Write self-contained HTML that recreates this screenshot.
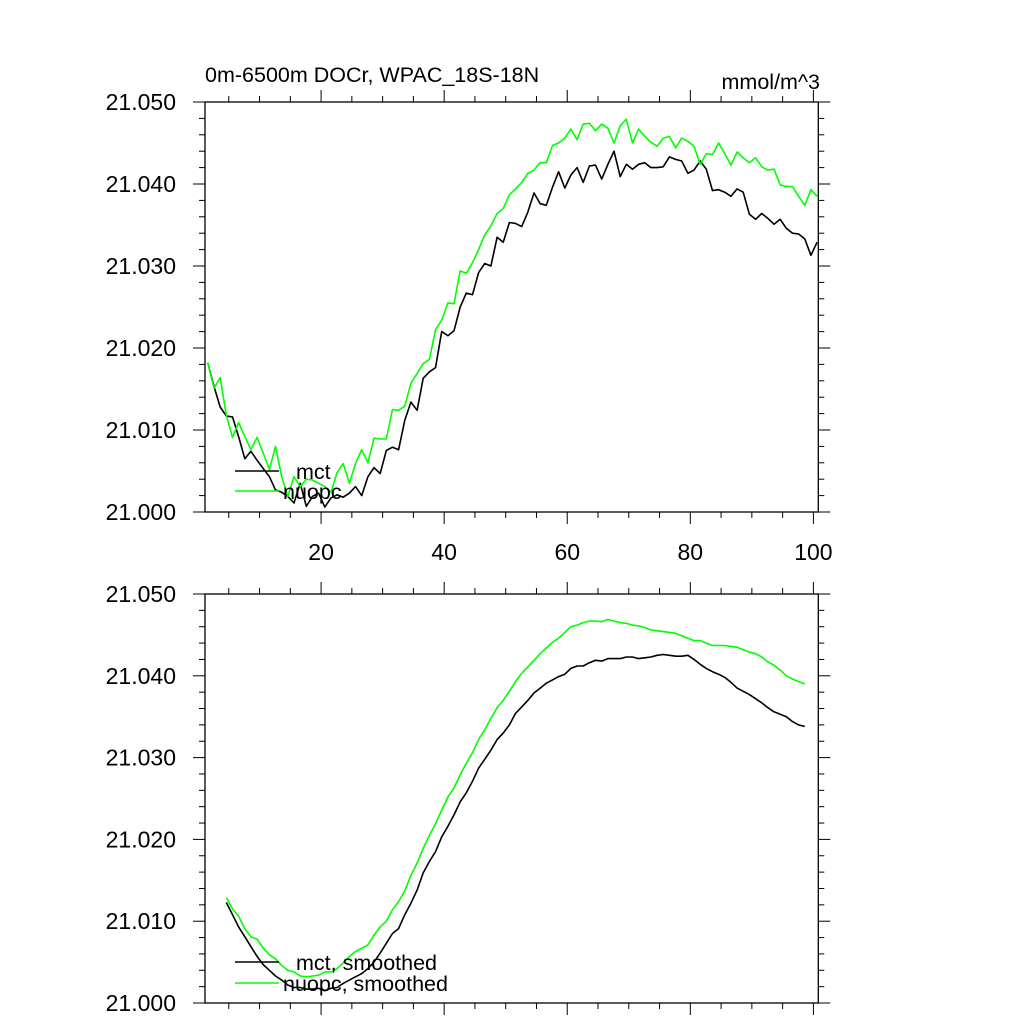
<!DOCTYPE html>
<html><head><meta charset="utf-8"><style>
html,body{margin:0;padding:0;background:#fff;}
svg{display:block;font-family:"Liberation Sans",Arial,sans-serif;}
</style></head><body>
<svg id="chart" width="1024" height="1024" viewBox="0 0 1024 1024" xmlns="http://www.w3.org/2000/svg">
<rect width="1024" height="1024" fill="#fff"/>
<text x="205" y="82" font-size="21.5">0m-6500m DOCr, WPAC_18S-18N</text>
<text x="820" y="89" font-size="21.5" text-anchor="end">mmol/m^3</text>
<g id="top"></g>
<g id="bottom"></g>
</svg>
<script>
// values in thousandths above 21.000
const mctRaw = [18.2,15.3,12.8,11.7,11.6,9.2,6.5,7.4,6.3,5.3,4.3,2.7,2.4,1.9,1.1,3.5,0.7,1.9,2.3,0.6,1.7,2.1,1.8,2.3,3.1,2.0,4.3,5.4,4.7,7.5,7.9,7.6,11.2,13.4,12.4,16.3,17.1,17.6,
22.0,21.5,22.1,25.0,26.7,26.5,29.2,30.3,30.0,33.5,32.9,35.3,35.2,34.8,36.6,38.9,37.6,37.4,39.6,41.5,39.5,41.1,42.0,40.2,42.2,42.3,40.6,42.4,44.0,40.9,42.4,41.8,42.4,42.6,42.0,42.0,42.1,43.3,43.0,42.8,41.3,41.7,42.8,41.8,39.2,39.3,39.0,38.5,39.4,39.0,36.3,35.7,36.4,35.8,35.1,35.7,34.6,34.0,33.9,33.3,31.3,32.9];
const nuopcRaw = [18.2,15.1,16.4,11.8,9.1,10.9,9.2,7.6,9.1,7.2,5.2,8.0,4.3,1.9,4.3,3.1,4.0,3.9,3.5,3.1,2.4,4.8,5.9,3.5,5.9,7.6,6.0,9.0,8.9,8.9,12.5,12.4,12.9,15.7,16.9,18.1,18.6,22.2,
23.4,25.5,25.4,29.4,29.1,30.4,32.0,33.8,34.9,36.4,37.0,38.7,39.4,40.2,41.3,41.7,42.6,42.6,44.7,45.0,45.6,46.7,45.4,47.3,47.4,46.5,47.3,46.8,45.0,47.1,47.9,45.0,46.7,45.8,45.1,44.6,45.6,45.8,44.4,45.6,45.2,44.6,42.4,43.7,43.6,45.0,43.7,42.3,43.9,43.2,42.6,43.2,42.1,41.7,41.8,39.9,39.7,39.7,38.5,37.4,39.3,38.5];
const smoothStart = 4;
const mctSmooth = [12.3,10.8,9.3,8.1,6.9,5.7,4.7,4.0,3.3,2.8,2.2,1.9,1.9,1.7,1.7,1.8,1.5,1.8,1.9,2.4,2.8,3.2,3.6,4.2,5.0,6.1,7.3,8.5,9.1,10.8,12.2,13.8,15.9,17.3,18.5,20.3,21.6,23.0,24.6,25.7,27.1,28.7,29.8,30.9,32.2,33.0,34.0,35.4,36.2,37.0,37.9,38.5,39.1,39.5,39.9,40.2,40.9,41.2,41.2,41.6,41.9,41.8,42.1,42.1,42.1,42.3,42.3,42.1,42.2,42.3,42.5,42.6,42.5,42.4,42.4,42.5,42.0,41.4,40.9,40.5,40.2,39.8,39.2,38.5,38.1,37.7,37.2,36.7,36.1,35.6,35.3,35.0,34.4,34.0,33.8];
const nuopcSmooth = [12.9,11.5,10.6,9.1,8.1,7.8,6.7,5.9,5.4,4.6,4.0,3.8,3.3,3.2,3.3,3.4,3.8,3.8,4.2,4.9,5.7,6.3,6.7,7.1,8.3,9.3,10.0,11.4,12.4,13.7,15.6,17.1,18.9,20.5,21.9,23.6,25.2,26.3,27.9,29.3,30.6,32.2,33.4,34.8,36.1,37.0,38.1,39.3,40.3,41.1,41.9,42.7,43.4,44.1,44.6,45.3,46.0,46.2,46.5,46.7,46.7,46.6,46.9,46.7,46.5,46.4,46.2,46.1,45.9,45.6,45.5,45.4,45.3,45.2,44.9,44.6,44.3,44.3,44.0,43.7,43.7,43.7,43.6,43.5,43.2,42.9,42.7,42.3,41.7,41.3,40.7,40.0,39.6,39.3,39.0];
const xTicks = [20,40,60,80,100];
const yTicks = [21.000,21.010,21.020,21.030,21.040,21.050];
const yTickLabels = ["21.000","21.010","21.020","21.030","21.040","21.050"];

const NS="http://www.w3.org/2000/svg";
const L=205,R=818.3;
function xS(v){return 198+6.154*v;}
function mk(tag,attrs,parent){const e=document.createElementNS(NS,tag);for(const k in attrs)e.setAttribute(k,attrs[k]);parent.appendChild(e);return e;}

function panel(g,top,bot,showXLabels,series,legend){
  const yS=v=>bot-(v-21.0)/0.05*(bot-top);
  const frame=mk('rect',{x:L,y:top,width:R-L,height:bot-top,fill:'none',stroke:'#000','stroke-width':1.3},g);
  
  
  for(let v=5;v<=100;v+=5){
    const major=v%20===0, len=major?12:6, x=xS(v);
    const t1=mk('line',{x1:x,x2:x,y1:bot,y2:bot+len,stroke:'#000','stroke-width':1},g);
    
    
    const t2=mk('line',{x1:x,x2:x,y1:top,y2:top-len,stroke:'#000','stroke-width':1},g);
    
    
  }
  if(showXLabels){xTicks.forEach(v=>{
    const t=mk('text',{x:xS(v),y:bot+48,'font-size':23,'text-anchor':'middle'},g);t.textContent=v;
    
    
  });}
  for(let i=0;i<=25;i++){
    const v=21.0+i*0.002, major=i%5===0, len=major?12:6, y=yS(v);
    const a=mk('line',{x1:L,x2:L-len,y1:y,y2:y,stroke:'#000','stroke-width':1},g);
    
    
    const b=mk('line',{x1:R,x2:R+len,y1:y,y2:y,stroke:'#000','stroke-width':1},g);
    
    
  }
  yTicks.forEach((v,i)=>{
    const t=mk('text',{x:176,y:yS(v)+8,'font-size':23,'text-anchor':'end'},g);t.textContent=yTickLabels[i];
    
    
  });
  series.forEach(s=>{
    const pts=s.vals.map((v,i)=>xS(s.start+i+0.6).toFixed(1)+','+yS(21+v/1000).toFixed(1)).join(' ');
    const p=mk('polyline',{points:pts,fill:'none',stroke:s.color,'stroke-width':1.6,'stroke-linejoin':'round'},g);
    
    
  });
  legend.forEach(l=>{
    const y=l.y;
    const ln=mk('line',{x1:235,x2:279,y1:y,y2:y,stroke:l.color,'stroke-width':1.6},g);
    
    
    const t=mk('text',{x:l.tx,y:y+8,'font-size':21.5},g);t.textContent=l.label;
    
    
  });
}
panel(document.getElementById('top'),102,512,true,
 [{vals:mctRaw,start:1,color:'#000',name:'mct-line'},{vals:nuopcRaw,start:1,color:'#00ff00',name:'nuopc-line'}],
 [{y:471,color:'#000',label:'mct',tx:296},{y:491,color:'#00ff00',label:'nuopc',tx:283}]);
panel(document.getElementById('bottom'),594,1003,false,
 [{vals:mctSmooth,start:smoothStart,color:'#000',name:'mct-smoothed-line'},{vals:nuopcSmooth,start:smoothStart,color:'#00ff00',name:'nuopc-smoothed-line'}],
 [{y:962,color:'#000',label:'mct, smoothed',tx:296},{y:983,color:'#00ff00',label:'nuopc, smoothed',tx:283}]);
</script>
</body></html>
